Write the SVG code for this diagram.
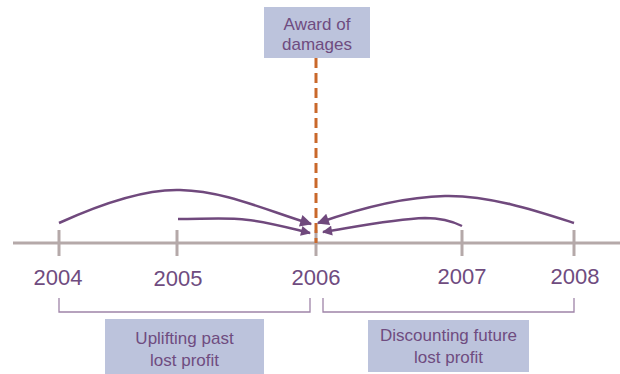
<svg xmlns="http://www.w3.org/2000/svg" width="620" height="374" viewBox="0 0 620 374">
  <defs>
    <style>
      .axis { stroke: #b5a9a9; stroke-width: 3; fill: none; }
      .year { font-family: "Liberation Sans", Arial, sans-serif; font-size: 22px; fill: #6f4c80; text-anchor: middle; }
      .label { font-family: "Liberation Sans", Arial, sans-serif; font-size: 17px; fill: #6f4c80; text-anchor: middle; }
      .box { fill: #bcc3dc; }
      .flow { stroke: #70497d; stroke-width: 2.5; fill: none; }
      .big { marker-end: url(#head); }
      .small { marker-end: url(#headSmall); }
      .bracket { stroke: #9f84a8; stroke-width: 1.3; fill: none; }
    </style>
    <marker id="head" viewBox="0 0 10 10" refX="9" refY="5" markerWidth="15" markerHeight="12" markerUnits="userSpaceOnUse" orient="auto">
      <path d="M0,0 L10,5 L0,10 z" fill="#70497d"/>
    </marker>
    <marker id="headSmall" viewBox="0 0 10 10" refX="9" refY="5" markerWidth="12" markerHeight="10" markerUnits="userSpaceOnUse" orient="auto">
      <path d="M0,0 L10,5 L0,10 z" fill="#70497d"/>
    </marker>
  </defs>

  <!-- timeline axis with year ticks -->
  <g id="axis">
    <line class="axis" x1="13" y1="243" x2="620" y2="243"/>
    <line class="axis" x1="59" y1="230" x2="59" y2="256"/>
    <line class="axis" x1="177" y1="230" x2="177" y2="256"/>
    <line class="axis" x1="316" y1="230" x2="316" y2="256"/>
    <line class="axis" x1="462" y1="230" x2="462" y2="256"/>
    <line class="axis" x1="574" y1="230" x2="574" y2="256"/>
  </g>

  <g id="years">
    <text class="year" x="58" y="285">2004</text>
    <text class="year" x="178" y="286">2005</text>
    <text class="year" x="316" y="285">2006</text>
    <text class="year" x="462" y="284">2007</text>
    <text class="year" x="575" y="284">2008</text>
  </g>

  <!-- valuation date marker -->
  <g id="award">
    <rect class="box" x="264" y="7" width="106" height="51"/>
    <text class="label" x="317" y="30">Award of</text>
    <text class="label" x="317" y="50">damages</text>
    <line x1="316" y1="58" x2="316" y2="243" stroke="#c9682b" stroke-width="3" stroke-dasharray="10,5"/>
  </g>

  <g id="connectors">
    <path class="flow big" d="M59,223 C105,202 145,189 180,190 C225,191 265,210 311,224"/>
    <path class="flow small" d="M178,219 C200,219 220,218 238,219 C260,220 285,227 310,233"/>
    <path class="flow big" d="M574,223 C540,212 490,195 445,196 C400,197 355,210 318,223"/>
    <path class="flow small" d="M462,226 C450,220 440,218 425,218 C395,219 360,226 323,232"/>
  </g>

  <g id="past">
    <path class="bracket" d="M59,298 V312 H310 V298"/>
    <rect class="box" x="105" y="319" width="159" height="55"/>
    <text class="label" x="184.5" y="344">Uplifting past</text>
    <text class="label" x="184.5" y="366">lost profit</text>
  </g>

  <g id="future">
    <path class="bracket" d="M323,298 V312 H574 V298"/>
    <rect class="box" x="368" y="320" width="161" height="52"/>
    <text class="label" x="448.5" y="341">Discounting future</text>
    <text class="label" x="448.5" y="363">lost profit</text>
  </g>
</svg>
